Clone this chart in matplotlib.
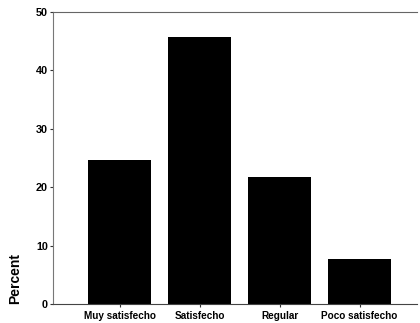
import matplotlib
matplotlib.use('Agg')
from matplotlib import pyplot as plt

categories = ['Muy satisfecho', 'Satisfecho', 'Regular', 'Poco satisfecho']
percent = [24.7, 45.7, 21.7, 7.7]
yticks = [0, 10, 20, 30, 40, 50]

plt.rcParams['font.family'] = ['Liberation Sans', 'DejaVu Sans']

fig = plt.figure(figsize=(4.2, 3.23), dpi=100)
ax = fig.add_axes([0.127, 0.059, 0.866, 0.904])

x = list(range(len(categories)))
ax.bar(x, percent, width=0.79, color='black')

ax.set_xlim(-0.83, 3.72)
ax.set_ylim(0, 50)
ax.set_yticks(yticks)
ax.set_xticks(x)
ax.set_xticklabels(categories, fontsize=7.2, fontweight='bold')
ax.set_yticklabels([str(t) for t in yticks], fontsize=7.8, fontweight='bold')
ax.tick_params(axis='both', length=2, width=0.8, pad=2, color='#333333')
ax.tick_params(axis='x', pad=3)

ax.set_ylabel('Percent', fontsize=10, fontweight='bold', loc='bottom', labelpad=10)

ax.spines['right'].set_visible(False)
ax.spines['left'].set_color('#777777')
ax.spines['left'].set_linewidth(0.8)
ax.spines['top'].set_color('#666666')
ax.spines['top'].set_linewidth(0.8)
ax.spines['bottom'].set_color('#444444')
ax.spines['bottom'].set_linewidth(0.8)

fig.savefig('out.png', dpi=100)
